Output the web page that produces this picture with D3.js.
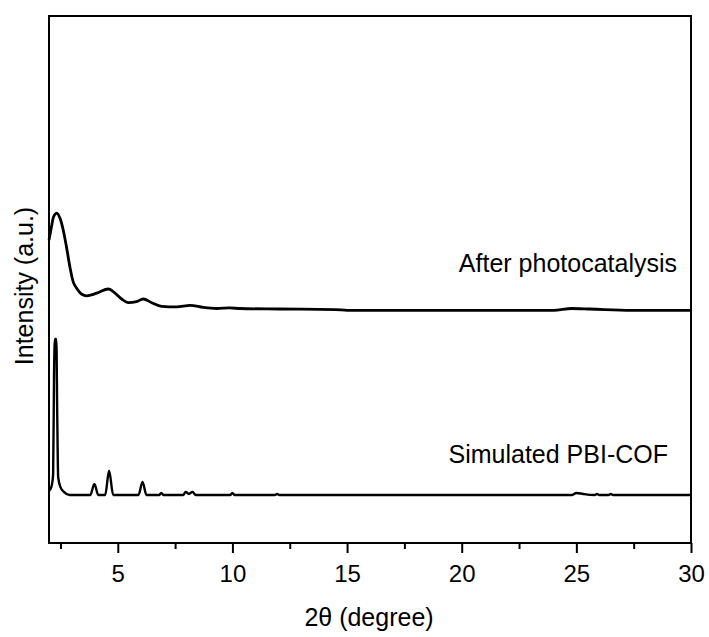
<!DOCTYPE html>
<html>
<head>
<meta charset="utf-8">
<script src="https://cdn.jsdelivr.net/npm/d3@7"></script>
<style>
  body { margin: 0; background: #fff; }
  text { font-family: "Liberation Sans", Arial, sans-serif; fill: #000; }
</style>
</head>
<body>
<div id="chart"></div>
<script>
// PXRD patterns (2theta, intensity a.u.)
const afterTheta = [2.00, 2.10, 2.20, 2.34, 2.48, 2.62, 2.77, 2.92, 3.06, 3.20, 3.43, 3.64, 4.08, 4.59, 4.88, 5.17, 5.46, 5.82, 6.11, 6.48, 6.91, 7.57, 8.15, 8.73, 9.31, 9.88, 10.33, 12.0, 14.5, 15.0, 24.0, 24.8, 25.6, 27.4, 30.0];
const afterInt   = [57.5, 59.8, 61.9, 62.6, 61.6, 59.4, 56.0, 52.2, 49.5, 48.4, 47.2, 46.9, 47.4, 48.2, 47.4, 46.3, 45.6, 45.8, 46.3, 45.6, 44.9, 44.8, 45.1, 44.7, 44.5, 44.6, 44.5, 44.4, 44.3, 44.15, 44.15, 44.5, 44.4, 44.15, 44.15];

const simTheta = [2.00, 2.10, 2.18, 2.22, 2.26, 2.32, 2.36, 2.40, 2.50, 2.65, 2.90, 3.80, 3.98, 4.15, 4.45, 4.62, 4.80, 5.90, 6.08, 6.25, 6.80, 6.90, 7.00, 7.85, 7.96, 8.10, 8.26, 8.40, 9.90, 10.00, 10.10, 11.85, 11.95, 12.05, 24.80, 25.00, 25.30, 25.80, 25.90, 26.00, 26.40, 26.50, 26.60, 30.00];
const simInt   = [9.9, 10.6, 13.0, 32.0, 38.7, 38.7, 24.0, 12.5, 10.6, 9.7, 9.1, 9.1, 11.2, 9.1, 9.1, 13.7, 9.1, 9.1, 11.6, 9.1, 9.1, 9.5, 9.1, 9.1, 9.7, 9.3, 9.7, 9.1, 9.1, 9.5, 9.1, 9.1, 9.3, 9.1, 9.1, 9.5, 9.3, 9.1, 9.3, 9.1, 9.1, 9.3, 9.1, 9.1];

const majorTicks = [5, 10, 15, 20, 25, 30];
const minorTicks = [2.5, 7.5, 12.5, 17.5, 22.5, 27.5];

const width = 709, height = 637;
const margin = { top: 16, right: 18, bottom: 94, left: 49 };

const svg = d3.select("#chart").append("svg")
    .attr("width", width)
    .attr("height", height);

const x = d3.scaleLinear().domain([2, 30]).range([margin.left, width - margin.right]);
const y = d3.scaleLinear().domain([0, 100]).range([height - margin.bottom, margin.top]);

// curves
const line = d3.line()
    .x(d => x(d[0]))
    .y(d => y(d[1]))
    .curve(d3.curveMonotoneX);

svg.append("path")
    .datum(afterTheta.map((t, i) => [t, afterInt[i]]))
    .attr("d", line)
    .attr("fill", "none")
    .attr("stroke", "#000")
    .attr("stroke-width", 2.8)
    .attr("stroke-linejoin", "round");

svg.append("path")
    .datum(simTheta.map((t, i) => [t, simInt[i]]))
    .attr("d", line)
    .attr("fill", "none")
    .attr("stroke", "#000")
    .attr("stroke-width", 2.4)
    .attr("stroke-linejoin", "round");

// bottom axis: major + minor ticks
const xAxis = svg.append("g")
    .attr("transform", `translate(0,${height - margin.bottom})`)
    .call(d3.axisBottom(x).tickValues(majorTicks).tickSize(10).tickFormat(d3.format("d")));
xAxis.select(".domain").remove();
xAxis.selectAll(".tick line").attr("stroke-width", 2);
xAxis.selectAll(".tick text")
    .attr("y", 39).attr("dy", 0)
    .style("font-size", "24px")
    .style("font-family", "'Liberation Sans', Arial, sans-serif");

const xMinor = svg.append("g")
    .attr("transform", `translate(0,${height - margin.bottom})`)
    .call(d3.axisBottom(x).tickValues(minorTicks).tickSize(6).tickFormat(""));
xMinor.select(".domain").remove();
xMinor.selectAll(".tick line").attr("stroke-width", 2);

// frame
svg.append("rect")
    .attr("x", margin.left)
    .attr("y", margin.top)
    .attr("width", width - margin.left - margin.right)
    .attr("height", height - margin.top - margin.bottom)
    .attr("fill", "none")
    .attr("stroke", "#000")
    .attr("stroke-width", 2);

// labels
svg.append("text")
    .attr("x", 369).attr("y", 626)
    .attr("text-anchor", "middle")
    .style("font-size", "25px")
    .text("2θ (degree)");

svg.append("text")
    .attr("transform", "translate(33,286) rotate(-90)")
    .attr("text-anchor", "middle")
    .style("font-size", "25px")
    .text("Intensity (a.u.)");

svg.append("text")
    .attr("x", 677).attr("y", 272)
    .attr("text-anchor", "end")
    .style("font-size", "25px")
    .text("After photocatalysis");

svg.append("text")
    .attr("x", 668).attr("y", 463)
    .attr("text-anchor", "end")
    .style("font-size", "25px")
    .text("Simulated PBI-COF");
</script>
</body>
</html>
